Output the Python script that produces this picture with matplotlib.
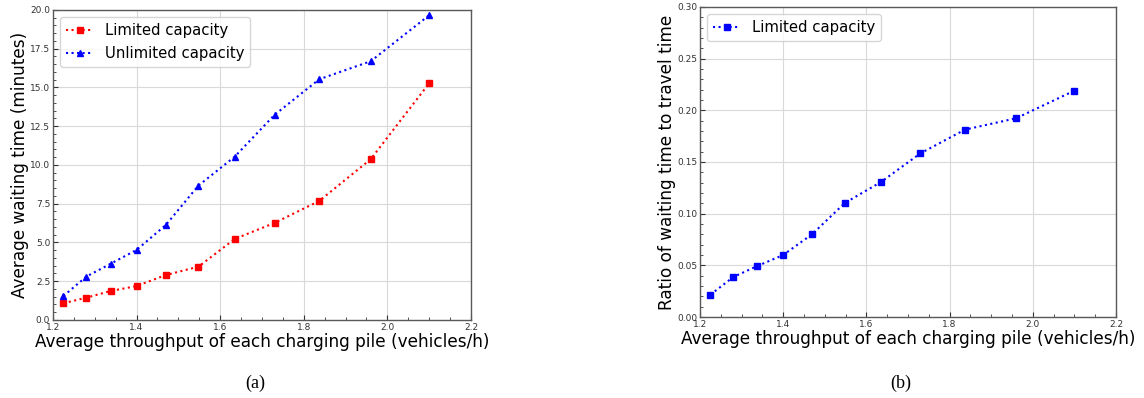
import matplotlib
matplotlib.use('Agg')
import matplotlib.pyplot as plt

# throughput per charging pile (vehicles/h)
throughput = [1.225, 1.280, 1.338, 1.400, 1.470, 1.548, 1.635, 1.730, 1.837, 1.960, 2.100]

# average waiting time (minutes)
wait_limited = [1.08, 1.44, 1.87, 2.19, 2.90, 3.44, 5.23, 6.26, 7.68, 10.37, 15.27]
wait_unlimited = [1.55, 2.80, 3.63, 4.52, 6.13, 8.67, 10.54, 13.23, 15.53, 16.69, 19.66]

# ratio of waiting time to travel time
ratio_limited = [0.0216, 0.0387, 0.0494, 0.060, 0.0803, 0.1103, 0.1306, 0.1584, 0.1813, 0.1923, 0.219]

xlabel = 'Average throughput of each charging pile (vehicles/h)'

fig = plt.figure(figsize=(11.44, 3.98), dpi=100)
ax1 = fig.add_axes([0.0463, 0.196, 0.3654, 0.779])
ax2 = fig.add_axes([0.6119, 0.2035, 0.3636, 0.779])


def style_axes(ax):
    ax.minorticks_on()
    ax.tick_params(which='both', direction='in', labelsize=6.5, pad=2, colors='0.2')
    ax.tick_params(which='major', length=3.5)
    ax.tick_params(which='minor', length=2)
    ax.grid(True, which='major', color='0.85', linewidth=0.8)
    ax.set_axisbelow(True)
    for s in ax.spines.values():
        s.set_color('0.35')
        s.set_linewidth(1.0)
    ax.set_xlim(1.2, 2.2)


# (a) waiting time
ax1.plot(throughput, wait_limited, color='red', linestyle=':', linewidth=1.5,
         marker='s', markersize=4.8, label='Limited capacity')
ax1.plot(throughput, wait_unlimited, color='blue', linestyle=':', linewidth=1.5,
         marker='^', markersize=4.8, label='Unlimited capacity')
style_axes(ax1)
ax1.set_ylim(0, 20)
ax1.set_xlabel(xlabel, fontsize=12.2, labelpad=1)
ax1.set_ylabel('Average waiting time (minutes)', fontsize=12.2, labelpad=1)
ax1.legend(loc='upper left', fontsize=10.7, numpoints=1, handlelength=1.8)

# (b) ratio
ax2.plot(throughput, ratio_limited, color='blue', linestyle=':', linewidth=1.5,
         marker='s', markersize=4.8, label='Limited capacity')
style_axes(ax2)
ax2.set_ylim(0, 0.30)
ax2.set_xlabel(xlabel, fontsize=12.2, labelpad=1)
ax2.set_ylabel('Ratio of waiting time to travel time', fontsize=12.2, labelpad=1)
ax2.legend(loc='upper left', fontsize=10.7, numpoints=1, handlelength=1.8)

fig.text(0.223, 0.038, '(a)', ha='center', va='center', fontsize=13, family='Liberation Serif')
fig.text(0.787, 0.038, '(b)', ha='center', va='center', fontsize=13, family='Liberation Serif')

fig.savefig('out.png', dpi=100)
